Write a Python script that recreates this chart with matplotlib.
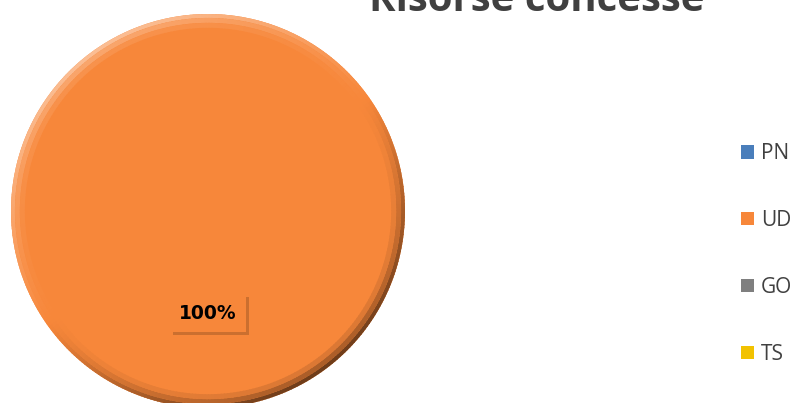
import matplotlib
matplotlib.use("Agg")
import matplotlib.pyplot as plt
from matplotlib.patches import Patch, Wedge
from matplotlib.colors import to_rgb
import matplotlib.patheffects as pe
import numpy as np

# data
provinces = ["PN", "UD", "GO", "TS"]
share = [0, 100, 0, 0]
colors = ["#4A7EBB", "#F7873A", "#7F7F7F", "#F2C200"]
title = "Risorse concesse"

fig = plt.figure(figsize=(7.99, 4.03), dpi=100)
fig.patch.set_facecolor("white")

# pie axes, placed so the disc sits like the original
ax = fig.add_axes([11/799, -5/403, 394/799, 394/403])

def pct(p):
    return "%d%%" % round(p) if p > 0 else ""

wedges, texts, autotexts = ax.pie(share, colors=colors, startangle=90, counterclock=False,
                                  radius=1, autopct=pct, pctdistance=0.52,
                                  wedgeprops=dict(linewidth=0),
                                  textprops=dict(fontsize=13.5, fontweight="bold",
                                                 family="DejaVu Sans", color="black"))
ax.set_xlim(-1, 1)
ax.set_ylim(-1, 1)
ax.set_aspect("equal")
ax.axis("off")

for t in autotexts:
    if t.get_text():
        t.set_zorder(10)
        t.set_bbox(dict(boxstyle="square,pad=0.5", facecolor=colors[1], edgecolor="none",
                        path_effects=[pe.SimplePatchShadow(offset=(2, -2), alpha=0.25), pe.Normal()]))

# bevel: darker rim at lower right, lighter rim at top left (opaque blended colours)
base = np.array(to_rgb(colors[1]))
ang = np.linspace(0, 360, 361)
for a0, a1 in zip(ang[:-1], ang[1:]):
    mid = np.radians((a0 + a1) / 2)
    light = np.cos(mid - np.radians(125))
    for r, w, k in [(1.0, 0.02, 1.0), (0.98, 0.025, 0.55), (0.955, 0.025, 0.2)]:
        if light > 0:
            c = base + (1 - base) * 0.45 * light * k
        else:
            c = base * (1 - 0.55 * (-light) * k)
        ax.add_patch(Wedge((0, 0), r, a0, a1 + 0.3, width=w, facecolor=c, linewidth=0))

fig.text(537/799, (403 - 11)/403, title, ha="center", va="baseline",
         fontsize=29, fontweight="bold", family="Open Sans", color="#404040")

handles = [Patch(facecolor=c, edgecolor="none") for c in colors]
leg = fig.legend(handles, provinces, loc="center left", bbox_to_anchor=(731/799, (403 - 254)/403),
                 frameon=False, fontsize=15, labelspacing=2.2, handlelength=0.6,
                 handleheight=0.6, handletextpad=0.35, borderpad=0)
for t in leg.get_texts():
    t.set_color("#404040")
    t.set_family("Open Sans")

fig.savefig("out.png", dpi=100)
